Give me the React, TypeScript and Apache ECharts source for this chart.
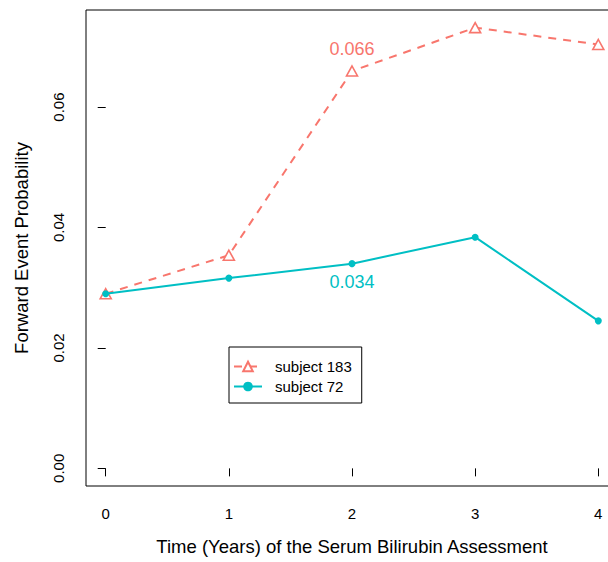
import { useEffect, useRef } from "react";
import * as echarts from "echarts";

// Assessment times (years) and forward event probabilities per subject
const years = [0, 1, 2, 3, 4];
const subject183 = [0.029, 0.0354, 0.066, 0.0732, 0.0704];
const subject72 = [0.029, 0.0316, 0.034, 0.0384, 0.0245];
const seriesNames = ["subject 183", "subject 72"];
// index of the assessment whose value is printed next to each curve
const labeledIndex = 2;

const xTicks = [0, 1, 2, 3, 4];
const yTicks = [0, 0.02, 0.04, 0.06];
const yTickLabels = ["0.00", "0.02", "0.04", "0.06"];

const SALMON = "#F8766D";
const TEAL = "#00BFC4";
const FONT = "'Liberation Sans', Arial, sans-serif";

export default function App() {
  const ref = useRef<HTMLDivElement>(null);

  useEffect(() => {
    if (!ref.current) return;
    const chart = echarts.init(ref.current, undefined, { renderer: "svg" });

    // base-graphics style 4% padding on each axis range
    const xMin = Math.min(...years);
    const xMax = Math.max(...years);
    const xPad = 0.04 * (xMax - xMin);
    const yMin = 0;
    const yMax = Math.max(...subject183, ...subject72);
    const yPad = 0.04 * (yMax - yMin);

    const points = (vals: number[], pos: "top" | "bottom", color: string, dist: number) =>
      years.map((x, i) =>
        i === labeledIndex
          ? {
              value: [x, vals[i]],
              label: {
                show: true,
                position: pos,
                distance: dist,
                color,
                fontSize: 18,
                fontFamily: FONT,
                formatter: vals[i].toFixed(3),
              },
            }
          : { value: [x, vals[i]] }
      );

    chart.setOption({
      animation: false,
      backgroundColor: "#ffffff",
      textStyle: { fontFamily: FONT },
      grid: {
        left: 86,
        top: 10,
        width: 532,
        height: 476,
        show: true,
        borderColor: "#000",
        borderWidth: 1,
        backgroundColor: "transparent",
        containLabel: false,
      },
      xAxis: {
        type: "value",
        min: xMin - xPad,
        max: xMax + xPad,
        splitLine: { show: false },
        axisLine: { show: false },
        axisTick: {
          show: true,
          length: 8,
          inside: false,
          customValues: xTicks,
          lineStyle: { color: "#000", width: 1 },
        },
        axisLabel: {
          customValues: xTicks,
          margin: 20,
          fontSize: 15,
          color: "#000",
          fontFamily: FONT,
          formatter: (v: number) => String(v),
        },
        name: "Time (Years) of the Serum Bilirubin Assessment",
        nameLocation: "middle",
        nameGap: 51,
        nameTextStyle: { fontSize: 18.5, color: "#000", fontFamily: FONT },
      },
      yAxis: {
        type: "value",
        min: yMin - yPad,
        max: yMax + yPad,
        splitLine: { show: false },
        axisLine: { show: false },
        axisTick: {
          show: true,
          length: 8,
          inside: false,
          customValues: yTicks,
          lineStyle: { color: "#000", width: 1 },
        },
        axisLabel: {
          customValues: yTicks,
          rotate: 90,
          margin: 20,
          fontSize: 15,
          color: "#000",
          fontFamily: FONT,
          formatter: (v: number) => {
            const k = yTicks.findIndex((t) => Math.abs(t - v) < 1e-9);
            return k >= 0 ? yTickLabels[k] : "";
          },
        },
        name: "Forward Event Probability",
        nameLocation: "middle",
        nameGap: 55,
        nameTextStyle: { fontSize: 18.5, color: "#000", fontFamily: FONT },
      },
      legend: {
        show: true,
        orient: "vertical",
        left: 229,
        top: 347,
        data: seriesNames,
        backgroundColor: "#fff",
        borderColor: "#000",
        borderWidth: 1,
        borderRadius: 0,
        padding: [12, 10, 9, 4],
        itemWidth: 28,
        itemHeight: 12,
        itemGap: 5,
        selectedMode: false,
        textStyle: {
          fontSize: 15,
          color: "#000",
          fontFamily: FONT,
          padding: [0, 0, 0, 8],
        },
      },
      series: [
        {
          name: seriesNames[0],
          type: "line",
          data: points(subject183, "top", SALMON, 7),
          symbol: "triangle",
          symbolSize: [11, 10],
          lineStyle: { color: SALMON, width: 2, type: [8, 7] },
          itemStyle: { color: "#ffffff", borderColor: SALMON, borderWidth: 1.6 },
          emphasis: { disabled: true },
          z: 2,
        },
        {
          name: seriesNames[1],
          type: "line",
          data: points(subject72, "bottom", TEAL, 6),
          symbol: "circle",
          symbolSize: 7,
          lineStyle: { color: TEAL, width: 2 },
          itemStyle: { color: TEAL, borderWidth: 0 },
          emphasis: { disabled: true },
          z: 3,
        },
      ],
    });

    return () => chart.dispose();
  }, []);

  // the plot frame runs past the right edge of the page, so the chart is
  // laid out a little wider than the visible box and clipped
  return (
    <div
      style={{
        position: "absolute",
        left: 0,
        top: 0,
        width: 608,
        height: 562,
        overflow: "hidden",
      }}
    >
      <div ref={ref} style={{ width: 630, height: 562 }} />
    </div>
  );
}
